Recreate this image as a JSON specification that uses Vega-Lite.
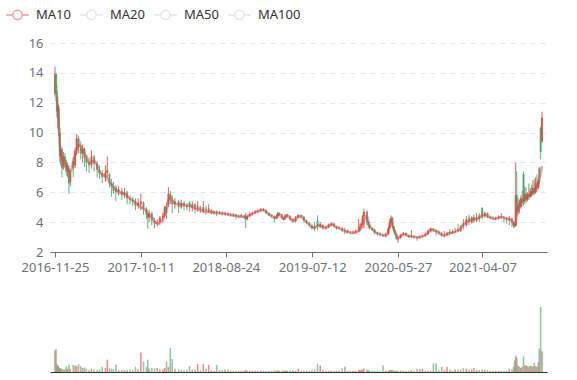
{
  "$schema": "https://vega.github.io/schema/vega-lite/v6.json",
  "padding": {"left": 5, "top": 2, "right": 5, "bottom": 5},
  "background": "white",
  "config": {
    "view": {"stroke": null},
    "font": "Noto Sans",
    "axis": {"labelFont": "Noto Sans", "labelFontSize": 13, "labelColor": "#6E7079"},
    "legend": {"labelFont": "Noto Sans", "labelFontSize": 13}
  },
  "datasets": {
    "p": [
      {"d":"2016-11-25","o":12.6,"c":13.9,"h":14.4,"l":12.4,"v":33},
      {"d":"2016-11-29","o":13.9,"c":12.8,"h":14.0,"l":12.1,"v":35},
      {"d":"2016-12-02","o":12.8,"c":11.4,"h":13.2,"l":11.0,"v":12,"m":12.4},
      {"d":"2016-12-06","o":11.4,"c":11.8,"h":11.9,"l":10.3,"v":10,"m":11.6},
      {"d":"2016-12-09","o":11.6,"c":10.2,"h":11.8,"l":9.8,"v":8,"m":10.6},
      {"d":"2016-12-13","o":10.0,"c":8.4,"h":10.3,"l":8.0,"v":6,"m":9.2},
      {"d":"2016-12-16","o":8.4,"c":8.9,"h":9.1,"l":7.8,"v":5,"m":8.7},
      {"d":"2016-12-21","o":8.9,"c":7.6,"h":9.0,"l":7.0,"v":5,"m":8.2},
      {"d":"2016-12-27","o":7.7,"c":8.4,"h":8.7,"l":7.5,"v":4,"m":8.1},
      {"d":"2017-01-01","o":8.4,"c":8.0,"h":8.6,"l":7.6,"v":4,"m":8.0},
      {"d":"2017-01-06","o":8.0,"c":7.4,"h":8.2,"l":7.1,"v":9,"m":7.8},
      {"d":"2017-01-11","o":7.4,"c":7.8,"h":8.0,"l":7.0,"v":5,"m":7.6},
      {"d":"2017-01-16","o":7.6,"c":6.6,"h":7.8,"l":5.9,"v":11,"m":7.4},
      {"d":"2017-01-21","o":6.7,"c":7.3,"h":7.5,"l":6.4,"v":5,"m":7.35},
      {"d":"2017-02-01","o":8.1,"c":7.6,"h":8.4,"l":7.0,"v":11,"m":8.0},
      {"d":"2017-02-08","o":7.8,"c":8.8,"h":9.0,"l":7.6,"v":10,"m":8.5},
      {"d":"2017-02-14","o":8.8,"c":9.6,"h":9.9,"l":8.5,"v":9,"m":8.8},
      {"d":"2017-02-21","o":9.6,"c":9.0,"h":9.8,"l":8.6,"v":12,"m":9.15},
      {"d":"2017-03-01","o":9.0,"c":8.6,"h":9.4,"l":8.2,"v":9,"m":9.1},
      {"d":"2017-03-08","o":8.6,"c":8.9,"h":9.2,"l":8.0,"v":6,"m":8.9},
      {"d":"2017-03-15","o":8.9,"c":8.3,"h":9.0,"l":7.7,"v":7,"m":8.6},
      {"d":"2017-03-22","o":8.3,"c":8.0,"h":8.5,"l":7.4,"v":5,"m":8.4},
      {"d":"2017-04-01","o":8.0,"c":7.8,"h":8.3,"l":7.3,"v":3,"m":7.95},
      {"d":"2017-04-10","o":7.8,"c":8.4,"h":8.8,"l":7.6,"v":5,"m":8.05},
      {"d":"2017-04-20","o":8.4,"c":7.9,"h":8.5,"l":7.4,"v":4,"m":8.1},
      {"d":"2017-05-01","o":7.9,"c":7.5,"h":8.1,"l":7.0,"v":3,"m":7.8},
      {"d":"2017-05-10","o":7.5,"c":7.3,"h":7.8,"l":6.9,"v":4,"m":7.35},
      {"d":"2017-05-20","o":7.3,"c":7.0,"h":7.5,"l":6.6,"v":8,"m":7.2},
      {"d":"2017-06-01","o":7.0,"c":7.3,"h":7.8,"l":6.7,"v":6,"m":7.05},
      {"d":"2017-06-08","o":7.3,"c":7.5,"h":8.4,"l":7.0,"v":19,"m":6.9},
      {"d":"2017-06-16","o":7.2,"c":6.6,"h":7.3,"l":6.3,"v":6,"m":6.7},
      {"d":"2017-06-24","o":6.6,"c":6.4,"h":6.9,"l":5.7,"v":5,"m":6.5},
      {"d":"2017-07-01","o":6.4,"c":6.1,"h":6.7,"l":5.9,"v":4,"m":6.35},
      {"d":"2017-07-10","o":6.3,"c":6.0,"h":6.5,"l":5.4,"v":11,"m":6.2},
      {"d":"2017-07-20","o":6.0,"c":6.2,"h":6.4,"l":5.8,"v":3,"m":6.0},
      {"d":"2017-08-01","o":6.1,"c":5.8,"h":6.3,"l":5.5,"v":3,"m":5.95},
      {"d":"2017-08-11","o":5.8,"c":6.0,"h":6.3,"l":5.6,"v":3,"m":5.9},
      {"d":"2017-08-21","o":6.0,"c":5.6,"h":6.1,"l":5.2,"v":3,"m":5.75},
      {"d":"2017-09-01","o":5.6,"c":5.5,"h":5.8,"l":5.2,"v":4,"m":5.55},
      {"d":"2017-09-11","o":5.5,"c":5.4,"h":5.7,"l":5.1,"v":3,"m":5.45},
      {"d":"2017-09-21","o":5.4,"c":5.1,"h":5.6,"l":4.8,"v":8,"m":5.3},
      {"d":"2017-10-01","o":5.1,"c":5.3,"h":5.6,"l":4.9,"v":4,"m":5.15},
      {"d":"2017-10-11","o":5.2,"c":5.4,"h":5.9,"l":4.8,"v":30,"m":5.0},
      {"d":"2017-10-21","o":5.3,"c":4.9,"h":5.4,"l":4.5,"v":16,"m":4.9},
      {"d":"2017-11-01","o":4.9,"c":4.5,"h":5.0,"l":4.2,"v":8,"m":4.75},
      {"d":"2017-11-06","o":4.5,"c":4.3,"h":4.6,"l":3.55,"v":19,"m":4.6},
      {"d":"2017-11-11","o":4.3,"c":4.6,"h":4.8,"l":4.0,"v":5,"m":4.5},
      {"d":"2017-11-21","o":4.6,"c":4.1,"h":4.7,"l":3.8,"v":6,"m":4.35},
      {"d":"2017-12-01","o":4.1,"c":3.9,"h":4.3,"l":3.6,"v":6,"m":4.05},
      {"d":"2017-12-11","o":3.9,"c":4.0,"h":4.2,"l":3.7,"v":6,"m":3.9},
      {"d":"2017-12-21","o":4.0,"c":4.3,"h":4.4,"l":3.8,"v":4,"m":4.0},
      {"d":"2018-01-01","o":4.3,"c":4.4,"h":4.6,"l":4.0,"v":4,"m":4.2},
      {"d":"2018-01-08","o":4.4,"c":5.0,"h":5.1,"l":4.3,"v":6,"m":4.6},
      {"d":"2018-01-15","o":5.0,"c":4.6,"h":5.3,"l":4.2,"v":16,"m":5.0},
      {"d":"2018-01-22","o":5.2,"c":5.9,"h":6.35,"l":5.0,"v":8,"m":5.45},
      {"d":"2018-01-29","o":5.9,"c":5.5,"h":6.1,"l":5.2,"v":37,"m":5.7},
      {"d":"2018-02-05","o":5.5,"c":5.2,"h":5.8,"l":4.6,"v":20,"m":5.5},
      {"d":"2018-02-15","o":5.2,"c":5.4,"h":5.6,"l":4.9,"v":5,"m":5.25},
      {"d":"2018-03-01","o":5.4,"c":5.0,"h":5.5,"l":4.6,"v":4,"m":5.2},
      {"d":"2018-03-11","o":5.0,"c":5.3,"h":5.5,"l":4.9,"v":3,"m":5.2},
      {"d":"2018-03-21","o":5.3,"c":5.1,"h":5.4,"l":4.8,"v":3,"m":5.15},
      {"d":"2018-04-01","o":5.1,"c":5.0,"h":5.3,"l":4.8,"v":4,"m":5.1},
      {"d":"2018-04-11","o":5.3,"c":5.0,"h":5.4,"l":4.7,"v":9,"m":5.1},
      {"d":"2018-04-21","o":5.0,"c":5.2,"h":5.4,"l":4.7,"v":4,"m":5.0},
      {"d":"2018-05-01","o":5.2,"c":4.9,"h":5.3,"l":4.6,"v":4,"m":4.9},
      {"d":"2018-05-11","o":4.9,"c":5.1,"h":5.4,"l":4.7,"v":12,"m":4.85},
      {"d":"2018-05-21","o":5.0,"c":4.8,"h":5.1,"l":4.6,"v":3,"m":4.8},
      {"d":"2018-06-01","o":4.7,"c":5.0,"h":5.4,"l":4.6,"v":12,"m":4.75},
      {"d":"2018-06-11","o":4.9,"c":4.8,"h":5.1,"l":4.5,"v":5,"m":4.7},
      {"d":"2018-06-21","o":4.7,"c":4.9,"h":5.2,"l":4.6,"v":11,"m":4.7},
      {"d":"2018-07-01","o":4.8,"c":4.6,"h":4.9,"l":4.5,"v":3,"m":4.67},
      {"d":"2018-07-11","o":4.6,"c":4.7,"h":4.8,"l":4.5,"v":2,"m":4.65},
      {"d":"2018-07-21","o":4.7,"c":4.6,"h":4.8,"l":4.4,"v":11,"m":4.62},
      {"d":"2018-08-01","o":4.6,"c":4.65,"h":4.75,"l":4.5,"v":3,"m":4.6},
      {"d":"2018-08-11","o":4.65,"c":4.55,"h":4.7,"l":4.45,"v":3,"m":4.58},
      {"d":"2018-08-21","o":4.55,"c":4.6,"h":4.7,"l":4.45,"v":4,"m":4.55},
      {"d":"2018-09-01","o":4.6,"c":4.5,"h":4.65,"l":4.4,"v":4,"m":4.52},
      {"d":"2018-09-11","o":4.5,"c":4.45,"h":4.6,"l":4.35,"v":2,"m":4.5},
      {"d":"2018-09-21","o":4.45,"c":4.5,"h":4.6,"l":4.35,"v":2,"m":4.45},
      {"d":"2018-10-01","o":4.5,"c":4.4,"h":4.55,"l":4.2,"v":2,"m":4.43},
      {"d":"2018-10-11","o":4.4,"c":4.35,"h":4.5,"l":4.25,"v":2,"m":4.4},
      {"d":"2018-10-21","o":4.35,"c":4.45,"h":4.55,"l":4.3,"v":2,"m":4.38},
      {"d":"2018-11-01","o":4.45,"c":4.3,"h":4.5,"l":4.2,"v":2,"m":4.35},
      {"d":"2018-11-06","o":4.3,"c":4.2,"h":4.6,"l":3.6,"v":3,"m":4.33},
      {"d":"2018-11-11","o":4.2,"c":4.4,"h":4.5,"l":4.1,"v":2,"m":4.35},
      {"d":"2018-11-21","o":4.4,"c":4.55,"h":4.65,"l":4.35,"v":2,"m":4.45},
      {"d":"2018-12-01","o":4.55,"c":4.6,"h":4.7,"l":4.45,"v":2,"m":4.55},
      {"d":"2018-12-11","o":4.6,"c":4.7,"h":4.8,"l":4.55,"v":2,"m":4.65},
      {"d":"2018-12-21","o":4.7,"c":4.75,"h":4.85,"l":4.6,"v":2,"m":4.72},
      {"d":"2019-01-01","o":4.75,"c":4.85,"h":4.95,"l":4.7,"v":2,"m":4.8},
      {"d":"2019-01-11","o":4.85,"c":4.8,"h":4.95,"l":4.7,"v":2,"m":4.83},
      {"d":"2019-01-21","o":4.8,"c":4.6,"h":4.85,"l":4.55,"v":2,"m":4.7},
      {"d":"2019-02-01","o":4.6,"c":4.45,"h":4.65,"l":4.4,"v":2,"m":4.52},
      {"d":"2019-02-11","o":4.45,"c":4.4,"h":4.5,"l":4.3,"v":2,"m":4.42},
      {"d":"2019-02-21","o":4.4,"c":4.25,"h":4.45,"l":4.0,"v":3,"m":4.3},
      {"d":"2019-03-01","o":4.25,"c":4.4,"h":4.5,"l":4.2,"v":2,"m":4.3},
      {"d":"2019-03-06","o":4.4,"c":4.6,"h":4.7,"l":4.3,"v":2,"m":4.5},
      {"d":"2019-03-11","o":4.6,"c":4.5,"h":4.65,"l":4.4,"v":2,"m":4.55},
      {"d":"2019-03-21","o":4.5,"c":4.3,"h":4.55,"l":4.2,"v":2,"m":4.35},
      {"d":"2019-03-27","o":4.3,"c":4.2,"h":4.35,"l":4.1,"v":2,"m":4.23},
      {"d":"2019-04-01","o":4.2,"c":4.4,"h":4.5,"l":4.15,"v":2,"m":4.3},
      {"d":"2019-04-06","o":4.4,"c":4.45,"h":4.55,"l":4.3,"v":2,"m":4.42},
      {"d":"2019-04-11","o":4.45,"c":4.4,"h":4.55,"l":4.3,"v":2,"m":4.45},
      {"d":"2019-04-21","o":4.4,"c":4.2,"h":4.45,"l":4.1,"v":3,"m":4.25},
      {"d":"2019-05-01","o":4.2,"c":4.05,"h":4.25,"l":3.95,"v":3,"m":4.1},
      {"d":"2019-05-11","o":4.05,"c":4.3,"h":4.4,"l":4.0,"v":2,"m":4.2},
      {"d":"2019-05-21","o":4.3,"c":4.45,"h":4.55,"l":4.25,"v":5,"m":4.38},
      {"d":"2019-06-01","o":4.45,"c":4.35,"h":4.5,"l":4.25,"v":2,"m":4.4},
      {"d":"2019-06-11","o":4.35,"c":4.1,"h":4.4,"l":4.0,"v":2,"m":4.2},
      {"d":"2019-06-21","o":4.1,"c":3.95,"h":4.15,"l":3.85,"v":2,"m":4.0},
      {"d":"2019-07-01","o":3.95,"c":3.8,"h":4.0,"l":3.7,"v":2,"m":3.85},
      {"d":"2019-07-11","o":3.8,"c":3.6,"h":3.85,"l":3.5,"v":3,"m":3.65},
      {"d":"2019-07-21","o":3.75,"c":3.55,"h":4.0,"l":3.4,"v":4,"m":3.62},
      {"d":"2019-08-01","o":4.1,"c":3.7,"h":4.45,"l":3.45,"v":13,"m":3.75},
      {"d":"2019-08-11","o":3.7,"c":3.85,"h":4.0,"l":3.6,"v":10,"m":3.8},
      {"d":"2019-08-21","o":3.8,"c":3.6,"h":3.85,"l":3.5,"v":3,"m":3.65},
      {"d":"2019-09-01","o":3.6,"c":3.65,"h":3.75,"l":3.5,"v":2,"m":3.62},
      {"d":"2019-09-11","o":3.65,"c":3.8,"h":3.9,"l":3.6,"v":2,"m":3.75},
      {"d":"2019-09-21","o":3.8,"c":3.9,"h":4.0,"l":3.7,"v":2,"m":3.85},
      {"d":"2019-10-01","o":3.9,"c":3.7,"h":3.95,"l":3.65,"v":2,"m":3.8},
      {"d":"2019-10-11","o":3.7,"c":3.6,"h":3.75,"l":3.5,"v":2,"m":3.65},
      {"d":"2019-10-21","o":3.6,"c":3.65,"h":3.7,"l":3.5,"v":2,"m":3.6},
      {"d":"2019-11-01","o":3.6,"c":3.45,"h":3.65,"l":3.35,"v":6,"m":3.5},
      {"d":"2019-11-11","o":3.4,"c":3.45,"h":3.6,"l":3.2,"v":8,"m":3.4},
      {"d":"2019-11-21","o":3.45,"c":3.3,"h":3.5,"l":3.25,"v":2,"m":3.35},
      {"d":"2019-12-01","o":3.3,"c":3.28,"h":3.4,"l":3.2,"v":2,"m":3.3},
      {"d":"2019-12-11","o":3.28,"c":3.3,"h":3.45,"l":3.2,"v":2,"m":3.28},
      {"d":"2019-12-21","o":3.3,"c":3.4,"h":3.5,"l":3.25,"v":2,"m":3.33},
      {"d":"2020-01-01","o":3.4,"c":3.5,"h":4.2,"l":3.35,"v":3,"m":3.4},
      {"d":"2020-01-06","o":3.5,"c":3.7,"h":3.9,"l":3.4,"v":3,"m":3.5},
      {"d":"2020-01-11","o":3.7,"c":3.9,"h":4.0,"l":3.6,"v":3,"m":3.6},
      {"d":"2020-01-16","o":3.9,"c":4.4,"h":4.5,"l":3.8,"v":4,"m":3.75},
      {"d":"2020-01-21","o":4.4,"c":4.7,"h":4.9,"l":3.6,"v":5,"m":4.1},
      {"d":"2020-02-01","o":4.7,"c":4.0,"h":4.8,"l":3.8,"v":4,"m":4.4},
      {"d":"2020-02-06","o":4.0,"c":3.8,"h":4.1,"l":3.6,"v":3,"m":4.1},
      {"d":"2020-02-11","o":3.8,"c":3.6,"h":3.85,"l":3.5,"v":2,"m":3.75},
      {"d":"2020-02-21","o":3.6,"c":3.5,"h":3.65,"l":3.4,"v":2,"m":3.55},
      {"d":"2020-03-01","o":3.5,"c":3.3,"h":3.55,"l":3.2,"v":2,"m":3.35},
      {"d":"2020-03-11","o":3.3,"c":3.2,"h":3.35,"l":3.1,"v":2,"m":3.25},
      {"d":"2020-03-21","o":3.2,"c":3.15,"h":3.3,"l":3.05,"v":2,"m":3.2},
      {"d":"2020-04-01","o":3.15,"c":3.1,"h":3.2,"l":3.0,"v":10,"m":3.12},
      {"d":"2020-04-11","o":3.1,"c":3.2,"h":3.3,"l":3.0,"v":2,"m":3.1},
      {"d":"2020-04-21","o":3.2,"c":3.6,"h":3.7,"l":3.15,"v":2,"m":3.35},
      {"d":"2020-04-26","o":3.6,"c":4.0,"h":4.2,"l":3.55,"v":3,"m":3.7},
      {"d":"2020-05-01","o":4.0,"c":4.3,"h":4.45,"l":3.9,"v":3,"m":4.0},
      {"d":"2020-05-06","o":4.3,"c":3.7,"h":4.35,"l":3.6,"v":3,"m":3.9},
      {"d":"2020-05-11","o":3.7,"c":3.4,"h":3.75,"l":3.3,"v":2,"m":3.6},
      {"d":"2020-05-16","o":3.4,"c":3.2,"h":3.45,"l":3.1,"v":2,"m":3.35},
      {"d":"2020-05-21","o":3.2,"c":2.9,"h":3.25,"l":2.8,"v":2,"m":3.1},
      {"d":"2020-05-27","o":2.9,"c":2.95,"h":3.05,"l":2.6,"v":2,"m":2.93},
      {"d":"2020-06-06","o":2.95,"c":3.15,"h":3.2,"l":2.9,"v":2,"m":3.05},
      {"d":"2020-06-16","o":3.15,"c":3.25,"h":3.35,"l":3.1,"v":2,"m":3.2},
      {"d":"2020-06-26","o":3.25,"c":3.1,"h":3.3,"l":3.05,"v":2,"m":3.18},
      {"d":"2020-07-06","o":3.1,"c":3.0,"h":3.15,"l":2.95,"v":2,"m":3.05},
      {"d":"2020-07-16","o":3.0,"c":3.05,"h":3.45,"l":2.95,"v":3,"m":3.04},
      {"d":"2020-07-26","o":3.05,"c":3.0,"h":3.1,"l":2.9,"v":2,"m":3.02},
      {"d":"2020-08-06","o":3.0,"c":2.95,"h":3.05,"l":2.75,"v":5,"m":2.98},
      {"d":"2020-08-16","o":2.95,"c":3.05,"h":3.1,"l":2.9,"v":4,"m":3.0},
      {"d":"2020-08-26","o":3.05,"c":3.1,"h":3.15,"l":3.0,"v":5,"m":3.05},
      {"d":"2020-09-06","o":3.1,"c":3.2,"h":3.3,"l":3.05,"v":2,"m":3.12},
      {"d":"2020-09-16","o":3.2,"c":3.4,"h":3.5,"l":3.15,"v":2,"m":3.3},
      {"d":"2020-09-26","o":3.4,"c":3.55,"h":3.65,"l":3.3,"v":2,"m":3.5},
      {"d":"2020-10-06","o":3.55,"c":3.45,"h":3.6,"l":3.35,"v":13,"m":3.48},
      {"d":"2020-10-16","o":3.45,"c":3.35,"h":3.5,"l":3.1,"v":13,"m":3.4},
      {"d":"2020-10-26","o":3.35,"c":3.25,"h":3.45,"l":3.15,"v":3,"m":3.3},
      {"d":"2020-11-06","o":3.25,"c":3.1,"h":3.35,"l":3.05,"v":8,"m":3.15},
      {"d":"2020-11-16","o":3.1,"c":3.15,"h":3.4,"l":3.0,"v":3,"m":3.1},
      {"d":"2020-11-26","o":3.15,"c":3.25,"h":3.35,"l":3.05,"v":8,"m":3.2},
      {"d":"2020-12-06","o":3.35,"c":3.25,"h":3.55,"l":3.1,"v":4,"m":3.27},
      {"d":"2020-12-16","o":3.25,"c":3.35,"h":3.5,"l":3.2,"v":2,"m":3.3},
      {"d":"2020-12-26","o":3.35,"c":3.4,"h":3.6,"l":3.25,"v":4,"m":3.35},
      {"d":"2021-01-06","o":3.5,"c":3.4,"h":3.9,"l":3.35,"v":4,"m":3.45},
      {"d":"2021-01-16","o":3.4,"c":3.7,"h":3.8,"l":3.35,"v":3,"m":3.6},
      {"d":"2021-01-26","o":3.9,"c":3.7,"h":4.2,"l":3.5,"v":6,"m":3.85},
      {"d":"2021-02-06","o":3.8,"c":4.2,"h":4.4,"l":3.7,"v":5,"m":4.0},
      {"d":"2021-02-16","o":4.3,"c":4.0,"h":4.5,"l":3.8,"v":3,"m":4.1},
      {"d":"2021-02-26","o":4.0,"c":4.3,"h":4.4,"l":3.9,"v":4,"m":4.15},
      {"d":"2021-03-06","o":4.35,"c":4.1,"h":4.5,"l":3.95,"v":6,"m":4.2},
      {"d":"2021-03-16","o":4.1,"c":4.3,"h":4.6,"l":4.0,"v":3,"m":4.23},
      {"d":"2021-03-26","o":4.45,"c":4.2,"h":4.6,"l":4.0,"v":3,"m":4.3},
      {"d":"2021-04-06","o":4.95,"c":4.3,"h":5.0,"l":4.2,"v":4,"m":4.45},
      {"d":"2021-04-16","o":4.4,"c":4.6,"h":4.7,"l":4.3,"v":3,"m":4.5},
      {"d":"2021-04-26","o":4.6,"c":4.35,"h":4.65,"l":4.25,"v":3,"m":4.4},
      {"d":"2021-05-06","o":4.35,"c":4.3,"h":4.45,"l":4.2,"v":2,"m":4.3},
      {"d":"2021-05-16","o":4.3,"c":4.25,"h":4.4,"l":4.15,"v":2,"m":4.25},
      {"d":"2021-05-26","o":4.22,"c":4.27,"h":4.35,"l":4.15,"v":2,"m":4.23},
      {"d":"2021-06-06","o":4.27,"c":4.35,"h":4.45,"l":4.2,"v":2,"m":4.3},
      {"d":"2021-06-16","o":4.4,"c":4.3,"h":4.6,"l":4.25,"v":2,"m":4.35},
      {"d":"2021-06-26","o":4.3,"c":4.25,"h":4.4,"l":4.0,"v":2,"m":4.3},
      {"d":"2021-07-06","o":4.25,"c":4.2,"h":4.35,"l":3.9,"v":2,"m":4.22},
      {"d":"2021-07-16","o":4.15,"c":4.25,"h":4.4,"l":3.8,"v":5,"m":4.2},
      {"d":"2021-07-26","o":4.25,"c":4.0,"h":4.3,"l":3.7,"v":4,"m":4.1},
      {"d":"2021-08-01","o":4.0,"c":3.8,"h":4.05,"l":3.6,"v":8,"m":3.85},
      {"d":"2021-08-05","o":3.9,"c":3.75,"h":4.0,"l":3.65,"v":18,"m":3.8},
      {"d":"2021-08-09","o":3.75,"c":5.8,"h":8.0,"l":3.7,"v":25,"m":4.0},
      {"d":"2021-08-13","o":5.8,"c":4.7,"h":7.4,"l":4.4,"v":22,"m":4.6},
      {"d":"2021-08-18","o":4.7,"c":5.1,"h":5.6,"l":4.5,"v":10,"m":5.0},
      {"d":"2021-08-23","o":5.2,"c":5.0,"h":5.5,"l":4.6,"v":8,"m":5.3},
      {"d":"2021-08-28","o":5.0,"c":5.6,"h":5.8,"l":4.9,"v":6,"m":5.4},
      {"d":"2021-09-02","o":5.6,"c":5.3,"h":6.1,"l":5.1,"v":8,"m":5.45},
      {"d":"2021-09-07","o":7.2,"c":5.4,"h":7.4,"l":5.1,"v":24,"m":5.5},
      {"d":"2021-09-12","o":5.4,"c":5.9,"h":6.4,"l":5.2,"v":10,"m":5.6},
      {"d":"2021-09-17","o":5.9,"c":5.5,"h":6.3,"l":5.3,"v":10,"m":5.65},
      {"d":"2021-09-22","o":5.5,"c":5.9,"h":6.0,"l":5.4,"v":9,"m":5.7},
      {"d":"2021-09-27","o":5.9,"c":5.7,"h":6.6,"l":5.5,"v":8,"m":5.75},
      {"d":"2021-10-02","o":5.7,"c":6.1,"h":6.3,"l":5.6,"v":9,"m":5.8},
      {"d":"2021-10-07","o":6.1,"c":5.9,"h":6.5,"l":5.7,"v":10,"m":5.9},
      {"d":"2021-10-12","o":5.9,"c":6.3,"h":6.8,"l":5.8,"v":8,"m":6.0},
      {"d":"2021-10-17","o":6.3,"c":6.0,"h":6.9,"l":5.8,"v":14,"m":6.1},
      {"d":"2021-10-22","o":6.0,"c":6.6,"h":7.0,"l":5.9,"v":9,"m":6.2},
      {"d":"2021-10-27","o":6.6,"c":6.3,"h":7.2,"l":6.0,"v":8,"m":6.35},
      {"d":"2021-11-01","o":6.3,"c":6.8,"h":7.0,"l":6.2,"v":15,"m":6.5},
      {"d":"2021-11-05","o":7.6,"c":7.0,"h":7.7,"l":6.6,"v":36,"m":6.8},
      {"d":"2021-11-10","o":10.3,"c":8.7,"h":10.4,"l":8.2,"v":100,"m":7.3},
      {"d":"2021-11-15","o":9.4,"c":11.0,"h":11.4,"l":9.3,"v":32,"m":7.75}
    ]
  },
  "vconcat": [
    {
      "width": 497,
      "height": 209,
      "data": {"name": "p"},
      "encoding": {
        "x": {
          "field": "d", "type": "temporal",
          "scale": {"type": "utc", "domain": [{"year": 2016, "month": 11, "date": 25, "utc": true}, {"year": 2021, "month": 11, "date": 15, "utc": true}]},
          "axis": {
            "title": null, "grid": false, "format": "%Y-%m-%d",
            "values": [
              {"year": 2016, "month": 11, "date": 25, "utc": true},
              {"year": 2017, "month": 10, "date": 11, "utc": true},
              {"year": 2018, "month": 8, "date": 24, "utc": true},
              {"year": 2019, "month": 7, "date": 12, "utc": true},
              {"year": 2020, "month": 5, "date": 27, "utc": true},
              {"year": 2021, "month": 4, "date": 7, "utc": true}
            ],
            "domainColor": "#6E7079", "tickColor": "#6E7079", "tickSize": 5,
            "labelPadding": 4, "labelFlush": false, "labelOverlap": false
          }
        }
      },
      "layer": [
        {
          "mark": {"type": "rule", "strokeWidth": 1, "opacity": 0.85},
          "encoding": {
            "y": {
              "field": "l", "type": "quantitative",
              "scale": {"domain": [2, 16], "nice": false, "zero": false},
              "axis": {
                "title": null, "values": [2, 4, 6, 8, 10, 12, 14, 16], "tickCount": 8,
                "domain": false, "ticks": false, "labelPadding": 7, "minExtent": 45,
                "labelOverlap": false, "labelFlush": false,
                "gridDash": [5, 5], "gridColor": "#E0E6F1"
              }
            },
            "y2": {"field": "h"},
            "color": {"condition": {"test": "datum.c > datum.o", "value": "#e0483a"}, "value": "#47a56b"}
          }
        },
        {
          "mark": {"type": "bar", "size": 2, "opacity": 0.85},
          "encoding": {
            "y": {
              "field": "o", "type": "quantitative",
              "axis": {
                "title": null, "values": [2, 4, 6, 8, 10, 12, 14, 16], "tickCount": 8,
                "domain": false, "ticks": false, "labelPadding": 7, "minExtent": 45,
                "labelOverlap": false, "labelFlush": false,
                "gridDash": [5, 5], "gridColor": "#E0E6F1"
              }
            },
            "y2": {"field": "c"},
            "color": {"condition": {"test": "datum.c > datum.o", "value": "#e0483a"}, "value": "#47a56b"}
          }
        },
        {
          "mark": {"type": "line", "strokeWidth": 2.6, "opacity": 0.5, "interpolate": "monotone"},
          "encoding": {
            "y": {
              "field": "m", "type": "quantitative",
              "axis": {
                "title": null, "values": [2, 4, 6, 8, 10, 12, 14, 16], "tickCount": 8,
                "domain": false, "ticks": false, "labelPadding": 7, "minExtent": 45,
                "labelOverlap": false, "labelFlush": false,
                "gridDash": [5, 5], "gridColor": "#E0E6F1"
              }
            },
            "color": {
              "datum": "MA10", "type": "nominal",
              "scale": {"domain": ["MA10", "MA20", "MA50", "MA100"], "range": ["#dd4444", "#cccccc", "#cccccc", "#cccccc"]},
              "legend": {
                "title": null, "orient": "none", "direction": "horizontal",
                "legendX": -45, "legendY": -41, "padding": 0,
                "symbolType": "M-1,0L-0.4,0M0.4,0L1,0M0.4,0A0.4,0.4,0,1,1,-0.4,0A0.4,0.4,0,1,1,0.4,0",
                "symbolSize": 529, "symbolStrokeWidth": 1.5, "symbolFillColor": "#ffffff",
                "labelOffset": 6, "columnPadding": 6, "labelFontSize": 13, "labelColor": "#333",
                "encode": {
                  "symbols": {"update": {"opacity": {"value": 1}, "fill": {"value": "#ffffff"}, "strokeWidth": {"value": 1.5}}},
                  "labels": {"update": {"fill": {"signal": "datum.value === 'MA10' ? '#333333' : '#cccccc'"}}}
                }
              }
            }
          }
        }
      ]
    },
    {
      "width": 497,
      "height": 65,
      "data": {"name": "p"},
      "mark": {"type": "bar", "size": 1.6, "opacity": 0.6},
      "encoding": {
        "x": {
          "field": "d", "type": "temporal",
          "scale": {"type": "utc", "domain": [{"year": 2016, "month": 11, "date": 25, "utc": true}, {"year": 2021, "month": 11, "date": 15, "utc": true}]},
          "axis": {"title": null, "labels": false, "ticks": false, "grid": false, "domainColor": "#333333"}
        },
        "y": {
          "field": "v", "type": "quantitative",
          "scale": {"domain": [0, 100], "nice": false},
          "axis": {"title": null, "labels": false, "ticks": false, "domain": false, "grid": false, "minExtent": 45}
        },
        "color": {"condition": {"test": "datum.c > datum.o", "value": "#e0483a"}, "value": "#47a56b"}
      }
    }
  ],
  "spacing": 33
}
